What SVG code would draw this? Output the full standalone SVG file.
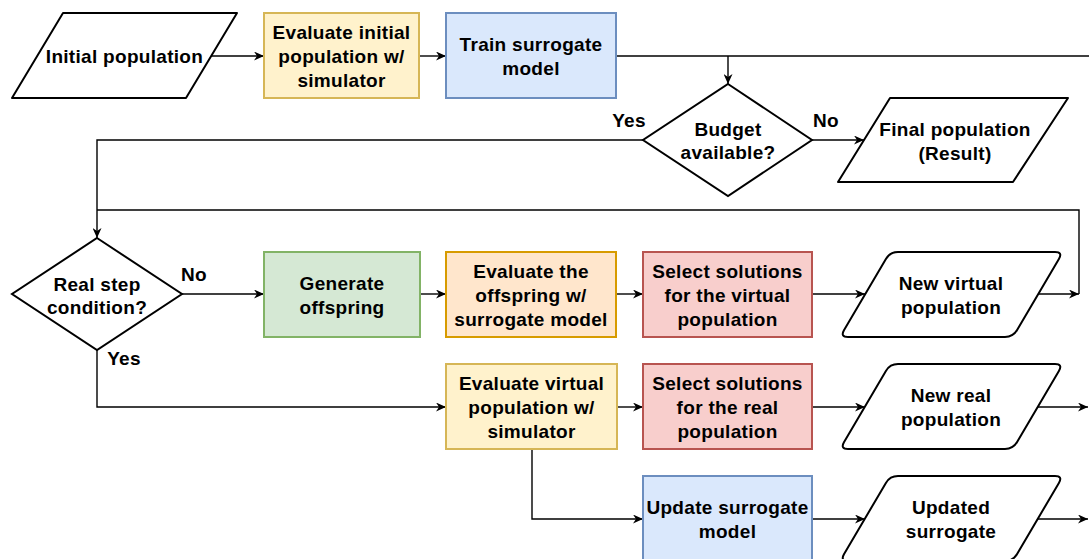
<svg xmlns="http://www.w3.org/2000/svg" width="1089" height="559" viewBox="0 0 1089 559">
<style>
text{font-family:"Liberation Sans",Arial,Helvetica,sans-serif;font-weight:bold;font-size:19px;letter-spacing:0.3px;fill:#000;text-anchor:middle}
.io{fill:#fff;stroke:#000;stroke-width:2;stroke-linejoin:round}
.yel{fill:#fff2cc;stroke:#d6b656;stroke-width:2}
.blu{fill:#dae8fc;stroke:#6c8ebf;stroke-width:2}
.grn{fill:#d5e8d4;stroke:#82b366;stroke-width:2}
.org{fill:#ffe6cc;stroke:#d79b00;stroke-width:2}
.red{fill:#f8cecc;stroke:#b85450;stroke-width:2}
.dec{fill:#fff;stroke:#000;stroke-width:2;stroke-linejoin:miter}
.ln{fill:none;stroke:#000;stroke-width:1.4}
.ar{fill:none;stroke:#000;stroke-width:1.4;marker-end:url(#arr)}
</style>
<defs>
<marker id="arr" markerWidth="11" markerHeight="9" refX="10" refY="4.5" orient="auto" markerUnits="userSpaceOnUse">
<path d="M0,0 L10,4.5 L0,9 L3,4.5 Z" fill="#000"/>
</marker>
<path id="rpar" d="M58,0 L215,0 Q223,0 218.9,6.9 L177.1,78.1 Q173,85 165,85 L8,85 Q0,85 4.1,78.1 L45.9,6.9 Q50,0 58,0 Z"/>
</defs>

<g id="connectors">
<line class="ar" x1="211" y1="56" x2="264" y2="56"/>
<line class="ar" x1="419" y1="56" x2="446" y2="56"/>
<line class="ln" x1="616" y1="56" x2="1089" y2="56"/>
<line class="ar" x1="728" y1="56" x2="728" y2="84"/>
<polyline class="ar" points="643,140 97,140 97,238"/>
<line class="ar" x1="812" y1="140" x2="864" y2="140"/>
<polyline class="ln" points="1079,294 1079,210 97,210"/>
<line class="ar" x1="182" y1="294" x2="264" y2="294"/>
<line class="ar" x1="420" y1="294" x2="446" y2="294"/>
<line class="ar" x1="616" y1="294" x2="643" y2="294"/>
<line class="ar" x1="812" y1="294" x2="865" y2="294"/>
<line class="ar" x1="1038" y1="294" x2="1079" y2="294"/>
<polyline class="ar" points="97,350 97,407 446,407"/>
<line class="ar" x1="617" y1="407" x2="643" y2="407"/>
<line class="ar" x1="812" y1="407" x2="865" y2="407"/>
<line class="ar" x1="1038" y1="407" x2="1088" y2="407"/>
<polyline class="ar" points="532,449 532,519 643,519"/>
<line class="ar" x1="812" y1="519" x2="865" y2="519"/>
<line class="ar" x1="1038" y1="519" x2="1088" y2="519"/>
<text x="629" y="126.5">Yes</text>
<text x="826" y="126.5">No</text>
<text x="194" y="280.5">No</text>
<text x="124" y="364.5">Yes</text>
</g>

<g id="initial-population">
<polygon class="io" points="63,13 237,13 186,98 12,98"/>
<text x="124.5" y="63">Initial population</text>
</g>

<g id="evaluate-initial">
<rect class="yel" x="264" y="13" width="155" height="85"/>
<text x="341.5" y="38.5">Evaluate initial</text>
<text x="341.5" y="62.5">population w/</text>
<text x="341.5" y="86.5">simulator</text>
</g>

<g id="train-surrogate">
<rect class="blu" x="446" y="13" width="170" height="85"/>
<text x="531" y="50.5">Train surrogate</text>
<text x="531" y="74.5">model</text>
</g>

<g id="budget-available">
<polygon class="dec" points="728,84 812,140 728,196 643,140"/>
<text x="728" y="136">Budget</text>
<text x="728" y="159">available?</text>
</g>

<g id="final-population">
<polygon class="io" points="890,98 1068,98 1013,182 838,182"/>
<text x="955" y="135.5">Final population</text>
<text x="955" y="159.5">(Result)</text>
</g>

<g id="real-step-condition">
<polygon class="dec" points="97,238 182,294 97,350 12,294"/>
<text x="97" y="291">Real step</text>
<text x="97" y="313.5">condition?</text>
</g>

<g id="generate-offspring">
<rect class="grn" x="264" y="252" width="156" height="85"/>
<text x="342" y="289.5">Generate</text>
<text x="342" y="313.5">offspring</text>
</g>

<g id="evaluate-offspring">
<rect class="org" x="446" y="252" width="170" height="85"/>
<text x="531" y="277.5">Evaluate the</text>
<text x="531" y="301.5">offspring w/</text>
<text x="531" y="325.5">surrogate model</text>
</g>

<g id="select-virtual">
<rect class="red" x="643" y="252" width="169" height="85"/>
<text x="727.5" y="277.5">Select solutions</text>
<text x="727.5" y="301.5">for the virtual</text>
<text x="727.5" y="325.5">population</text>
</g>

<g id="new-virtual-population">
<use href="#rpar" class="io" transform="translate(840,252)"/>
<text x="951" y="289.5">New virtual</text>
<text x="951" y="313.5">population</text>
</g>

<g id="evaluate-virtual">
<rect class="yel" x="446" y="364" width="171" height="85"/>
<text x="531.5" y="389.5">Evaluate virtual</text>
<text x="531.5" y="413.5">population w/</text>
<text x="531.5" y="437.5">simulator</text>
</g>

<g id="select-real">
<rect class="red" x="643" y="364" width="169" height="85"/>
<text x="727.5" y="389.5">Select solutions</text>
<text x="727.5" y="413.5">for the real</text>
<text x="727.5" y="437.5">population</text>
</g>

<g id="new-real-population">
<use href="#rpar" class="io" transform="translate(840,364)"/>
<text x="951" y="401.5">New real</text>
<text x="951" y="425.5">population</text>
</g>

<g id="update-surrogate">
<rect class="blu" x="643" y="476" width="169" height="85"/>
<text x="727.5" y="513.5">Update surrogate</text>
<text x="727.5" y="537.5">model</text>
</g>

<g id="updated-surrogate">
<use href="#rpar" class="io" transform="translate(840,476)"/>
<text x="951" y="513.5">Updated</text>
<text x="951" y="537.5">surrogate</text>
</g>
</svg>
